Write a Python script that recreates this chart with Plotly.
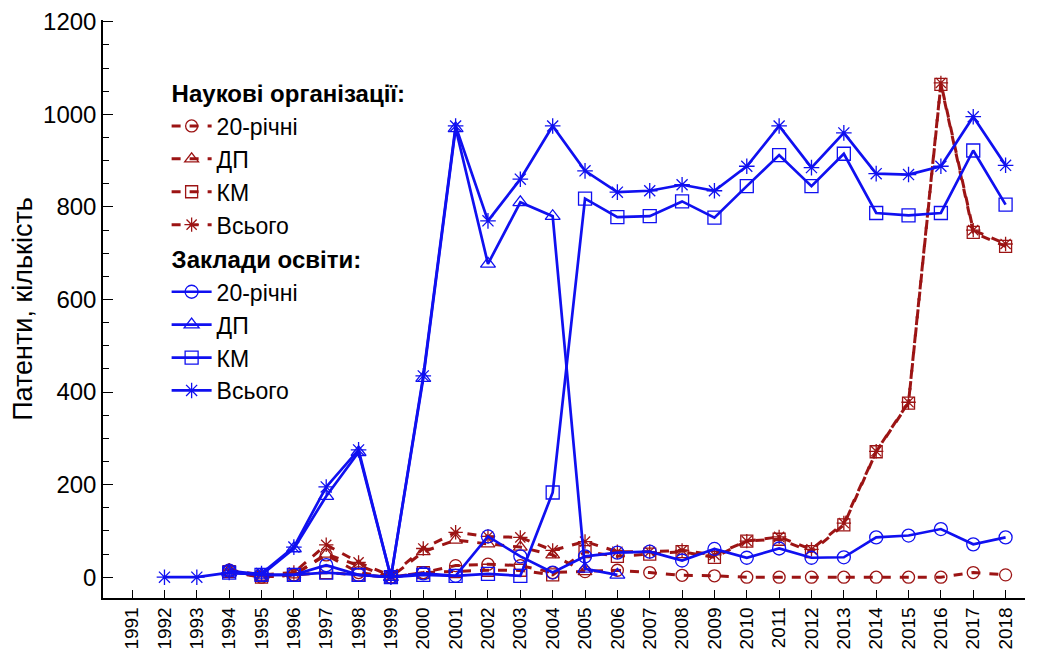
import plotly.graph_objects as go

# роки
years_all = list(range(1992, 2019))
years_94 = list(range(1994, 2019))
years_dp_edu = list(range(1994, 2007))
years_dp_sci = list(range(1994, 2006))

# Наукові організації
sci_20 = [15, 0, 5, 48, 10, 0, 10, 25, 28, 25, 10, 12, 15, 10, 4, 3, 0, 0, 0, 0, 0, 0, 0, 10, 5]
sci_dp = [15, 0, 5, 50, 25, 0, 55, 80, 72, 65, 48, 12]
sci_km = [12, 0, 5, 10, 5, 0, 10, 12, 15, 15, 5, 55, 45, 50, 55, 43, 78, 82, 55, 113, 271, 376, 1065, 745, 715]
sci_total = [15, 5, 10, 70, 32, 3, 62, 97, 88, 86, 58, 77, 55, 55, 58, 48, 78, 87, 60, 117, 272, 378, 1068, 750, 720]

# Заклади освіти
edu_20 = [14, 5, 5, 26, 5, 0, 8, 3, 88, 45, 10, 45, 53, 55, 36, 61, 42, 62, 42, 43, 86, 90, 104, 71, 86]
edu_dp = [10, 5, 62, 175, 270, 0, 430, 970, 677, 810, 780, 18, 5]
edu_km = [10, 5, 5, 10, 5, 0, 5, 3, 7, 3, 183, 818, 778, 780, 812, 777, 845, 912, 845, 915, 787, 782, 787, 922, 805]
edu_total = [0, 0, 10, 8, 65, 195, 275, 0, 435, 975, 770, 860, 975, 878, 832, 835, 848, 835, 888, 975, 885, 960, 872, 870, 888, 995, 890]

RED = "#9c1414"
BLUE = "#1010f0"

fig = go.Figure()

sci = [
    ("20-річні", years_94, sci_20, "circle-open"),
    ("ДП", years_dp_sci, sci_dp, "triangle-up-open"),
    ("КМ", years_94, sci_km, "square-open"),
    ("Всього", years_94, sci_total, "asterisk-open"),
]
edu = [
    ("20-річні", years_94, edu_20, "circle-open"),
    ("ДП", years_dp_edu, edu_dp, "triangle-up-open"),
    ("КМ", years_94, edu_km, "square-open"),
    ("Всього", years_all, edu_total, "asterisk-open"),
]

for i, (name, x, y, sym) in enumerate(sci):
    fig.add_trace(go.Scatter(
        x=x, y=y, name=name, mode="lines+markers",
        line=dict(color=RED, width=3, dash="dash"),
        marker=dict(symbol=sym, size=12, color=RED, line=dict(width=1.3, color=RED)),
        legendgroup="sci", legendrank=1 + i,
        legendgrouptitle_text="<b>Наукові організації:</b>" if i == 0 else None,
    ))

for i, (name, x, y, sym) in enumerate(edu):
    fig.add_trace(go.Scatter(
        x=x, y=y, name=name, mode="lines+markers",
        line=dict(color=BLUE, width=2.7),
        marker=dict(symbol=sym, size=13, color=BLUE, line=dict(width=1.3, color=BLUE)),
        legendgroup="edu", legendrank=10 + i,
        legendgrouptitle_text="<b>Заклади освіти:</b>" if i == 0 else None,
    ))

fig.update_layout(
    width=1037, height=658,
    margin=dict(l=95, r=20, t=12, b=68),
    paper_bgcolor="white", plot_bgcolor="white",
    font=dict(family="Liberation Sans, Arial", color="black", size=18),
    legend=dict(
        x=0.069, y=0.913, xanchor="left", yanchor="top",
        font=dict(size=23), grouptitlefont=dict(size=24),
        tracegroupgap=0, itemwidth=40, bgcolor="rgba(0,0,0,0)",
    ),
    showlegend=True,
)
fig.update_xaxes(
    range=[1990.1, 2018.6], tickmode="linear", tick0=1991, dtick=1,
    tickangle=-90, tickfont=dict(size=19), automargin=False,
    showline=True, linecolor="black", linewidth=1.5,
    ticks="inside", ticklen=8, tickcolor="black", showgrid=False, zeroline=False,
)
fig.update_yaxes(
    range=[-45, 1204], tickmode="linear", tick0=0, dtick=200,
    tickfont=dict(size=24), automargin=False,
    title=dict(text="Патенти, кількість", font=dict(size=27), standoff=4),
    showline=True, linecolor="black", linewidth=1.5,
    ticks="inside", ticklen=10, tickcolor="black", showgrid=False, zeroline=False,
    minor=dict(dtick=50, ticks="inside", ticklen=6, tickcolor="black", showgrid=False),
)

fig.write_html("out.html")
